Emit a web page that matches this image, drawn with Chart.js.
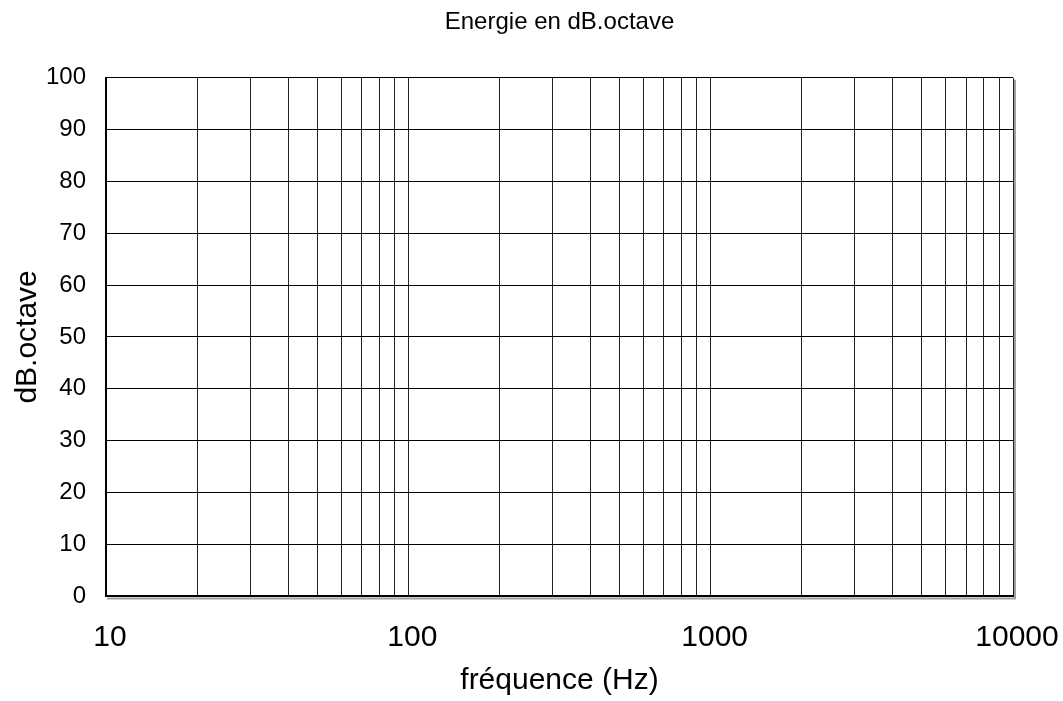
<!DOCTYPE html>
<html>
<head>
<meta charset="utf-8">
<script src="https://cdn.jsdelivr.net/npm/chart.js@4/dist/chart.umd.min.js"></script>
<style>
  html, body { margin: 0; padding: 0; background: #fff; }
</style>
</head>
<body>
<canvas id="energy-chart" width="1063" height="701"></canvas>
<script>
// axes: log frequency (Hz) on x, level (dB) on y
const decades = [10, 100, 1000, 10000];
const decadeSteps = [1, 2, 3, 4, 5, 6, 7, 8, 9];
const yTicks = [0, 10, 20, 30, 40, 50, 60, 70, 80, 90, 100];

// the reference chart has no plotted values
const bandFreqs = [];
const bandLevels = [];

// grid lines at 10,20..90,100,200..9000,10000
const xGrid = [];
decades.slice(0, -1).forEach(d => decadeSteps.forEach(s => xGrid.push(d * s)));
xGrid.push(decades[decades.length - 1]);

const FONT = "'Liberation Sans', Arial, sans-serif";
Chart.defaults.color = '#000';
Chart.defaults.font.family = FONT;

// grey drop shadow on right/bottom edges of the plot frame
const frameShadow = {
    id: 'frameShadow',
    afterDraw(chart) {
        const {ctx, chartArea: a} = chart;
        ctx.save();
        ctx.strokeStyle = '#a0a0a0';
        ctx.lineWidth = 2;
        ctx.beginPath();
        ctx.moveTo(a.left + 1, a.bottom + 2.5);
        ctx.lineTo(a.right + 2, a.bottom + 2.5);
        ctx.lineTo(a.right + 2, a.top + 2);
        ctx.stroke();
        ctx.restore();
    }
};

new Chart(
    document.getElementById('energy-chart'),
    {
        type: 'line',
        data: {
            datasets: [{
                label: 'dB.octave',
                data: bandFreqs.map((f, i) => ({x: f, y: bandLevels[i]})),
                borderColor: '#000',
                borderWidth: 2,
                pointRadius: 0
            }]
        },
        options: {
            responsive: false,
            animation: false,
            layout: {
                padding: {left: 10, right: 50, top: 0, bottom: 0}
            },
            plugins: {
                legend: {display: false},
                tooltip: {enabled: false},
                title: {
                    display: true,
                    text: 'Energie en dB.octave',
                    fullSize: false,
                    font: {size: 24, weight: 'normal'},
                    padding: {top: 8, bottom: 41}
                }
            },
            scales: {
                x: {
                    type: 'logarithmic',
                    min: 10,
                    max: 10000,
                    afterBuildTicks: scale => {
                        scale.ticks = xGrid.map(v => ({value: v}));
                    },
                    afterFit: scale => {
                        scale.height = 105;
                        scale.paddingLeft = 0;
                        scale.paddingRight = 0;
                    },
                    ticks: {
                        autoSkip: false,
                        maxRotation: 0,
                        padding: 24,
                        labelOffset: 4,
                        font: {size: 30},
                        callback: v => decades.includes(v) ? String(v) : ''
                    },
                    grid: {color: '#222', lineWidth: 1, drawTicks: false},
                    border: {color: '#000', width: 2},
                    title: {
                        display: true,
                        text: 'fréquence (Hz)',
                        font: {size: 30},
                        padding: {top: 0, bottom: 2}
                    }
                },
                y: {
                    min: 0,
                    max: 100,
                    afterBuildTicks: scale => {
                        scale.ticks = yTicks.map(v => ({value: v}));
                    },
                    afterFit: scale => { scale.width = 96; },
                    ticks: {
                        padding: 20,
                        font: {size: 24}
                    },
                    grid: {color: '#000', lineWidth: 1, drawTicks: false},
                    border: {color: '#000', width: 2},
                    title: {
                        display: true,
                        text: 'dB.octave',
                        font: {size: 30},
                        padding: {top: 0, bottom: 0}
                    }
                }
            }
        },
        plugins: [frameShadow]
    }
);
</script>
</body>
</html>
